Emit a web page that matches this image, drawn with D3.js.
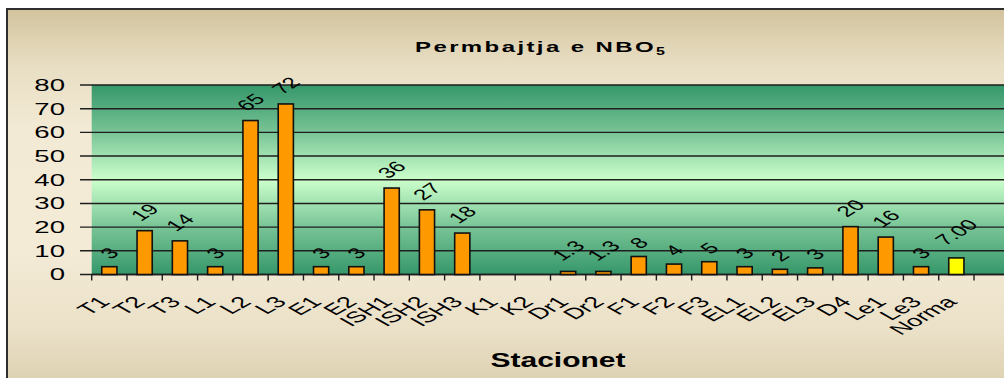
<!DOCTYPE html>
<html><head><meta charset="utf-8">
<script src="https://cdn.jsdelivr.net/npm/d3@7"></script>
<style>html,body{margin:0;padding:0;background:#fff;overflow:hidden}svg{display:block}</style>
</head><body>
<script>
const categories = ["T1","T2","T3","L1","L2","L3","E1","E2","ISH1","ISH2","ISH3","K1","K2","Dr1","Dr2","F1","F2","F3","EL1","EL2","EL3","D4","Le1","Le3","Norma"];
const values = [3.3,18.5,14.2,3.3,65,72,3.3,3.3,36.5,27.3,17.5,null,null,1.3,1.3,7.6,4.4,5.4,3.3,2.2,2.8,20.2,15.8,3.3,7.0];
const valueLabels = ["3","19","14","3","65","72","3","3","36","27","18","","","1.3","1.3","8","4","5","3","2","3","20","16","3","7.00"];
const yTicks = [0,10,20,30,40,50,60,70,80];
const normCategory = "Norma";

(function(){
const W = 1004, H = 378;
const svg = d3.select("body").append("svg").attr("width", W).attr("height", H);
const defs = svg.append("defs");

const bgGrad = defs.append("linearGradient").attr("id","bg").attr("x1",0).attr("y1",0).attr("x2",0).attr("y2",1);
[[0,"#d2c39d"],[0.14,"#e8dec3"],[0.3,"#f3ead5"],[0.6,"#f4ebd7"],[0.8,"#ebe1c8"],[1,"#d6c9a6"]]
  .forEach(([o,c]) => bgGrad.append("stop").attr("offset",o).attr("stop-color",c));
const plotGrad = defs.append("linearGradient").attr("id","pg").attr("x1",0).attr("y1",0).attr("x2",0).attr("y2",1);
[[0,"#35976a"],[0.25,"#78c496"],[0.5,"#ccffcc"],[0.75,"#78c496"],[1,"#35976a"]]
  .forEach(([o,c]) => plotGrad.append("stop").attr("offset",o).attr("stop-color",c));

// frame
svg.append("rect").attr("x",7).attr("y",9).attr("width",1010).attr("height",400)
  .attr("fill","url(#bg)").attr("stroke","#2e2e2e").attr("stroke-width",2);

const pLeft = 91.7, pRight = 974, pTop = 85, pBottom = 274.5;
const x = d3.scaleBand().domain(categories).range([pLeft, pRight]).padding(0);
const y = d3.scaleLinear().domain([0, 80]).range([pBottom, pTop]);

// plot area
svg.append("rect").attr("x",pLeft).attr("y",pTop).attr("width",W + 20 - pLeft).attr("height",pBottom-pTop)
  .attr("fill","url(#pg)");

// gridlines + y ticks
svg.append("g").selectAll("line").data(yTicks).join("line")
  .attr("x1",80).attr("x2",W+20).attr("y1",d=>y(d)).attr("y2",d=>y(d))
  .attr("stroke","#1e1e1e").attr("stroke-width",1.4);

// y labels
const sx = 1.62;
svg.append("g").selectAll("text").data(yTicks).join("text")
  .attr("transform",d=>`translate(65,${y(d)}) scale(${sx},1)`)
  .attr("text-anchor","end").attr("dominant-baseline","central")
  .attr("font-family","Arial, 'Liberation Sans', sans-serif").attr("font-size",17)
  .attr("fill","#000").text(d=>d);

// x axis line and ticks
svg.append("line").attr("x1",pLeft).attr("x2",W+20).attr("y1",pBottom).attr("y2",pBottom)
  .attr("stroke","#1e1e1e").attr("stroke-width",1.6);
const tickPos = categories.map(c=>x(c)).concat([x(categories[categories.length-1]) + x.bandwidth()]);
svg.append("g").selectAll("line").data(tickPos).join("line")
  .attr("x1",d=>d).attr("x2",d=>d).attr("y1",pBottom).attr("y2",pBottom+6)
  .attr("stroke","#1e1e1e").attr("stroke-width",1.4);

// bars
const bw = x.bandwidth()*0.43;
const data = categories.map((c,i)=>({c, v: values[i], label: valueLabels[i]}));
svg.append("g").selectAll("rect").data(data.filter(d=>d.v!=null)).join("rect")
  .attr("x",d=>x(d.c)+x.bandwidth()/2-bw/2).attr("width",bw)
  .attr("y",d=>y(d.v)).attr("height",d=>y(0)-y(d.v))
  .attr("fill",d=>d.c===normCategory?"#ffff00":"#ff9900")
  .attr("stroke","#111").attr("stroke-width",1.6);

// value labels
const vl = svg.append("g").selectAll("text").data(data.filter(d=>d.v!=null)).join("text")
  .attr("text-anchor","middle").attr("dominant-baseline","central")
  .attr("font-family","Arial, 'Liberation Sans', sans-serif").attr("font-size",15)
  .attr("fill","#000").text(d=>d.label);
vl.each(function(d){
  const w = this.getComputedTextLength()*sx;
  const h = 11;
  const ext = (w + h)*0.354;
  const cx = x(d.c)+x.bandwidth()/2;
  const cy = y(d.v) - 5 - ext;
  d3.select(this).attr("transform",`translate(${cx},${cy}) scale(${sx},1) rotate(-45)`);
});

// category labels
svg.append("g").selectAll("text").data(categories).join("text")
  .attr("transform",c=>`translate(${x(c)+x.bandwidth()/2-12},${295}) scale(1.75,1) rotate(-45)`)
  .attr("text-anchor","end").attr("dominant-baseline","hanging")
  .attr("font-family","Arial, 'Liberation Sans', sans-serif").attr("font-size",15.5)
  .attr("fill","#000").text(c=>c);

// title
const title = svg.append("text").attr("transform","translate(415,51.7) scale(1.6,1)")
  .attr("text-anchor","start").attr("font-family","Arial, 'Liberation Sans', sans-serif")
  .attr("font-weight","bold").attr("font-size",15).attr("letter-spacing",1.5).attr("fill","#000");
title.append("tspan").text("Permbajtja e NBO");
title.append("tspan").attr("font-size",10).attr("dy",3).text("5");

// axis title
svg.append("text").attr("transform","translate(558,366.5) scale(1.5,1)")
  .attr("text-anchor","middle").attr("font-family","Arial, 'Liberation Sans', sans-serif")
  .attr("font-weight","bold").attr("font-size",20).attr("fill","#000").text("Stacionet");
})();
</script>
</body></html>
